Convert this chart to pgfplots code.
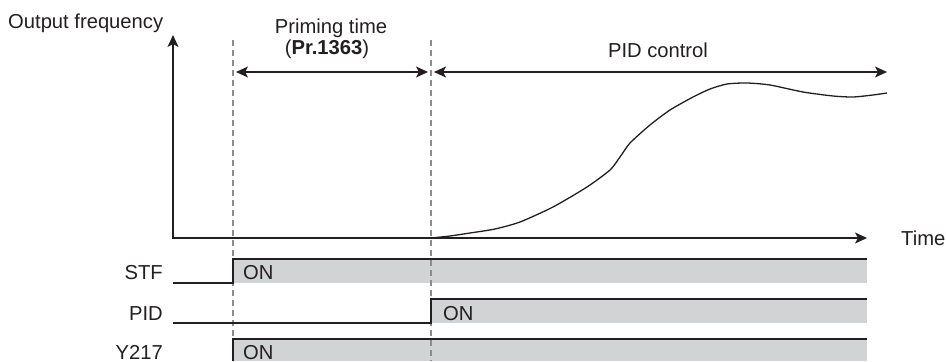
\documentclass[border=0pt]{standalone}
\usepackage{fontspec}
\setmainfont{Liberation Sans}
\usepackage{pgfplots}
\pgfplotsset{compat=1.18}
\usetikzlibrary{arrows.meta}
\definecolor{ink}{HTML}{231F20}
\definecolor{onfill}{HTML}{D1D3D4}
\definecolor{dashc}{HTML}{8A8C8E}
\begin{document}
\begin{tikzpicture}[
  txt/.style={font=\fontsize{20.2bp}{24bp}\selectfont, text=ink, inner sep=0pt},
]
\begin{axis}[
  scale only axis, width=946bp, height=361bp,
  xmin=0, xmax=946, ymin=0, ymax=361, y dir=reverse,
  hide axis, clip=false,
]
% full frame for the bounding box
\path (axis cs:0,0) rectangle (axis cs:946,361);
% ON regions (gray fills)
\addplot[fill=onfill, draw=none] coordinates {(233,259)(867,259)(867,283)(233,283)} -- cycle;
\addplot[fill=onfill, draw=none] coordinates {(431,299)(867,299)(867,323)(431,323)} -- cycle;
\addplot[fill=onfill, draw=none] coordinates {(233,339)(867,339)(867,361)(233,361)} -- cycle;
% dashed lines
\addplot[dashc, line width=1.1bp, dash pattern=on 6bp off 4bp] coordinates {(233,40)(233,361)};
\addplot[dashc, line width=1.1bp, dash pattern=on 6bp off 4bp] coordinates {(431,40)(431,361)};
% signals
\addplot[ink, line width=1.2bp] coordinates {(173,283)(233,283)(233,259)(867,259)};
\addplot[ink, line width=1.2bp] coordinates {(173,323)(431,323)(431,299)(867,299)};
\addplot[ink, line width=1.2bp] coordinates {(233,361)(233,339)(867,339)};
% output frequency curve
\addplot[ink, line width=1.3bp, smooth, tension=0.4] coordinates {
 (431,238)(450,236)(470,233)(495,229)(520,222)(553,207)(587,187)(610,170)(620,157)(630,143)
 (650,125)(670,110)(693,97)(710,89)(727,84)(747,83)(770,85)(803,92)(833,96)(853,97)(873,95)(887,93)};
% axes
\draw[ink, line width=1.3bp, {Stealth[length=12bp,width=11bp,inset=3bp]}-{Stealth[length=12bp,width=11bp,inset=3bp]}]
  (axis cs:173,35) -- (axis cs:173,238) -- (axis cs:867,238);
% double arrows
\draw[ink, line width=1.2bp, {Stealth[length=12bp,width=11bp,inset=3bp]}-{Stealth[length=12bp,width=11bp,inset=3bp]}]
  (axis cs:236,72) -- (axis cs:428,72);
\draw[ink, line width=1.2bp, {Stealth[length=12bp,width=11bp,inset=3bp]}-{Stealth[length=12bp,width=11bp,inset=3bp]}]
  (axis cs:434,72) -- (axis cs:887,72);
% texts
\node[txt, anchor=base west] at (axis cs:8,29) {Output frequency};
\node[txt, anchor=base] at (axis cs:331,33) {Priming time};
\node[txt, anchor=base] at (axis cs:327,54) {(\textbf{Pr.1363})};
\node[txt, anchor=base] at (axis cs:658,57) {PID control};
\node[txt, anchor=base east] at (axis cs:945.5,245) {Time};
\node[txt, anchor=base east] at (axis cs:163,279) {STF};
\node[txt, anchor=base east] at (axis cs:163,320) {PID};
\node[txt, anchor=base east] at (axis cs:163,359) {Y217};
\node[txt, anchor=base west] at (axis cs:243,279) {ON};
\node[txt, anchor=base west] at (axis cs:443,320) {ON};
\node[txt, anchor=base west] at (axis cs:243,359) {ON};
\end{axis}
\end{tikzpicture}
\end{document}
